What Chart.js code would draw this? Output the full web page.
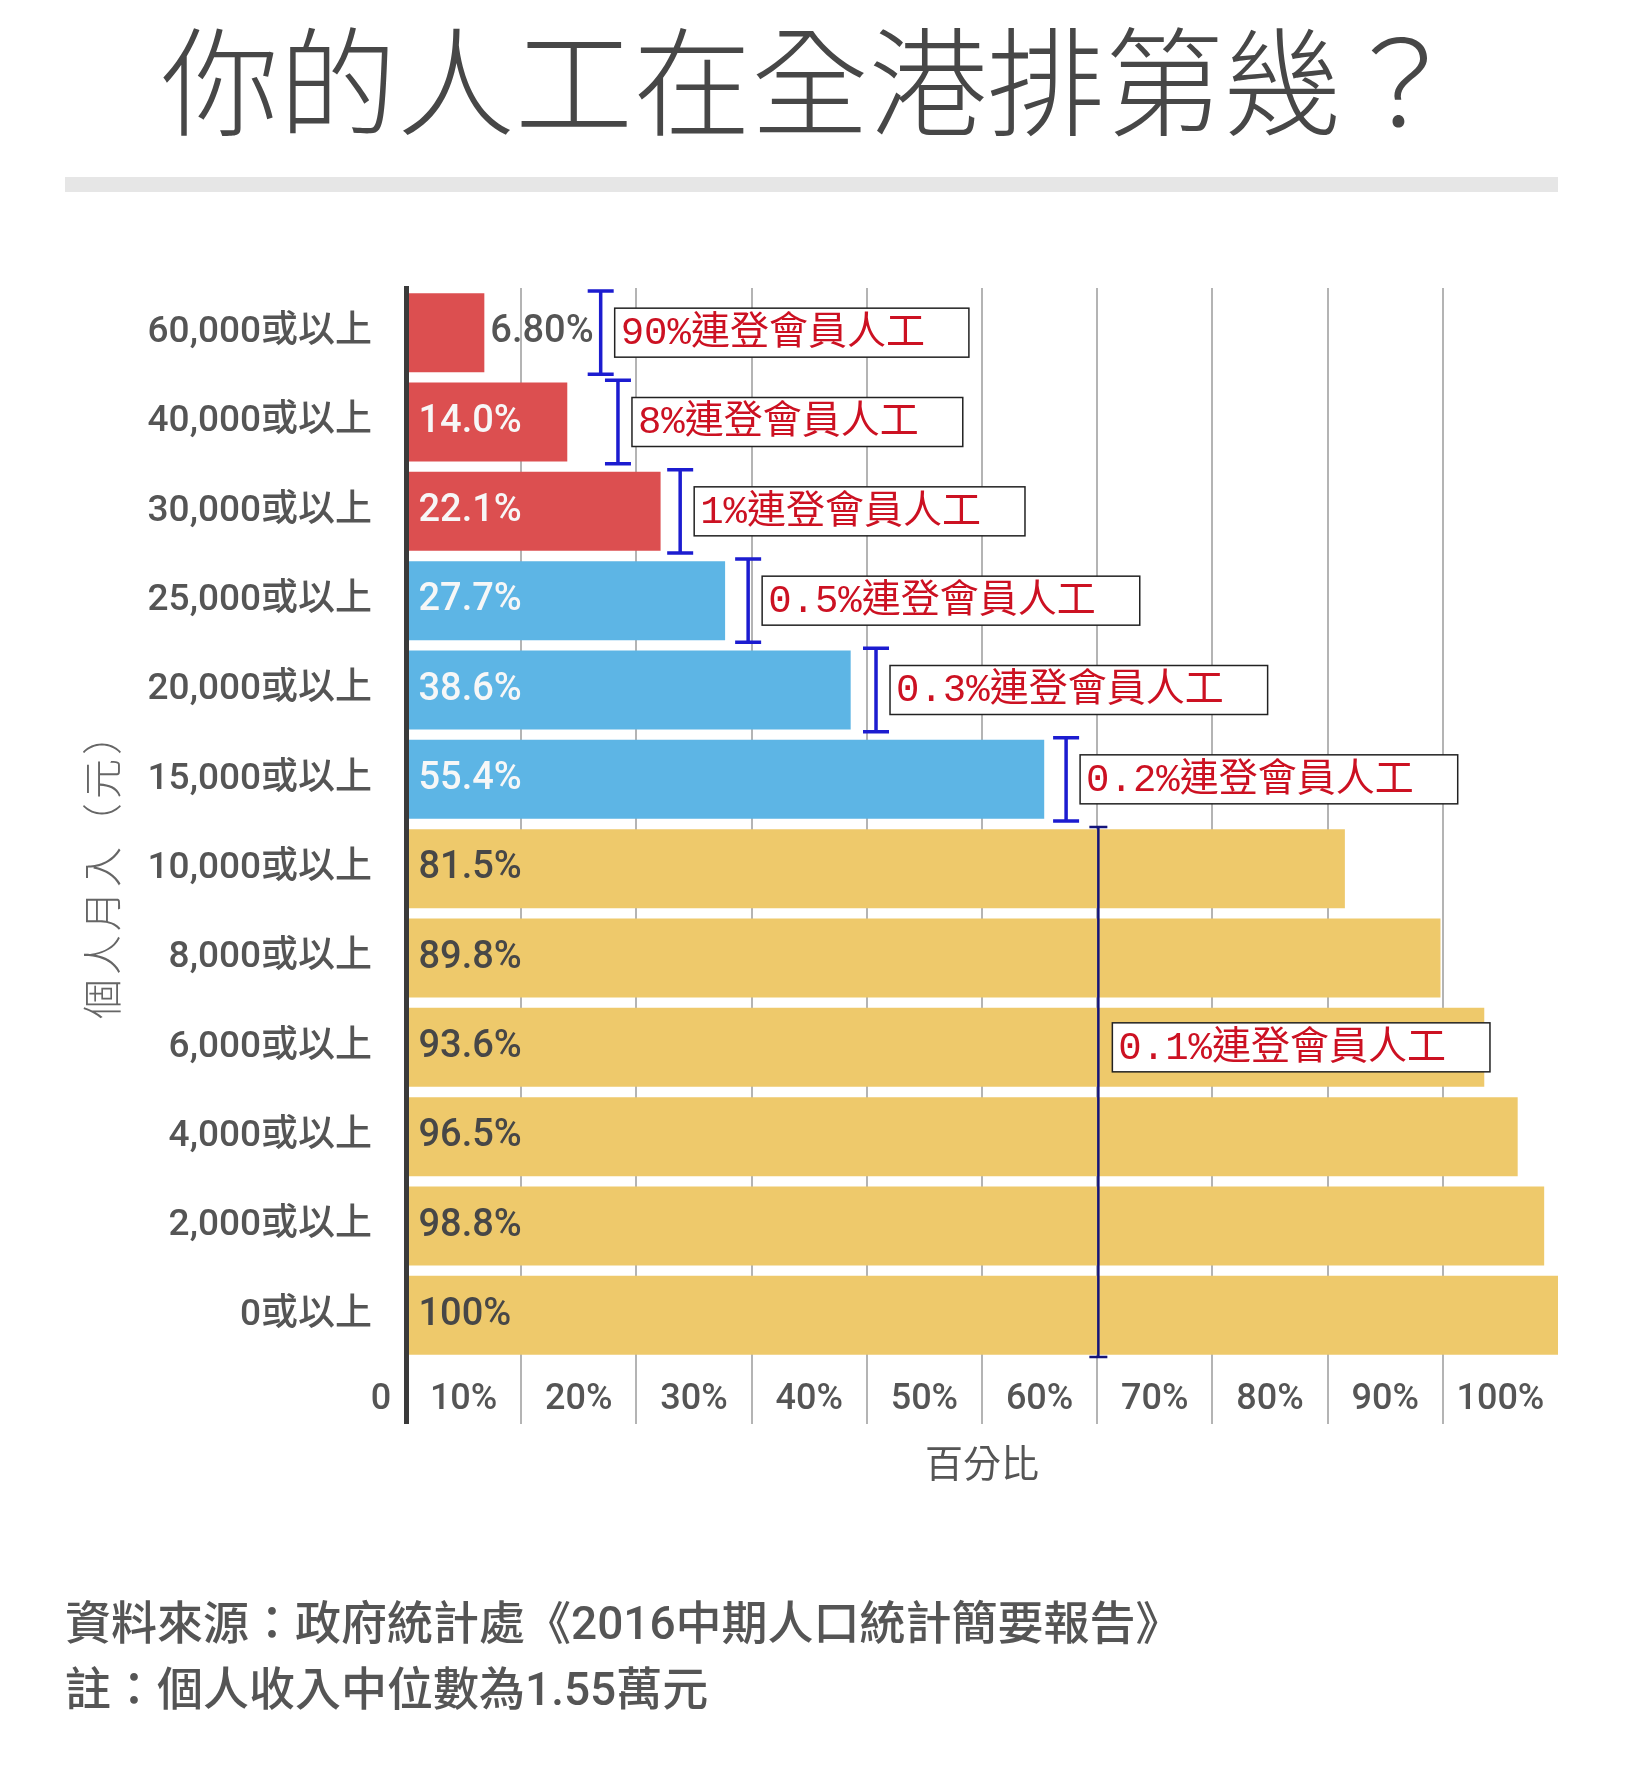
<!DOCTYPE html>
<html>
<head>
<meta charset="utf-8">
<script src="https://cdn.jsdelivr.net/npm/chart.js@4.4.1/dist/chart.umd.min.js"></script>
<style>
  html, body { margin: 0; padding: 0; background: #fff; }
  canvas { display: block; }
</style>
</head>
<body>
<canvas id="grafico" width="1639" height="1770"></canvas>
<script>
const titulo = "你的人工在全港排第幾？"
const tituloY = "個人月入（元）"
const tituloX = "百分比"
const fuente = ["資料來源：政府統計處《2016中期人口統計簡要報告》", "註：個人收入中位數為1.55萬元"]

const categorias = ["60,000或以上", "40,000或以上", "30,000或以上", "25,000或以上", "20,000或以上", "15,000或以上",
    "10,000或以上", "8,000或以上", "6,000或以上", "4,000或以上", "2,000或以上", "0或以上"]
const porcentajes = [6.8, 14.0, 22.1, 27.7, 38.6, 55.4, 81.5, 89.8, 93.6, 96.5, 98.8, 100]
const etiquetas = ["6.80%", "14.0%", "22.1%", "27.7%", "38.6%", "55.4%", "81.5%", "89.8%", "93.6%", "96.5%", "98.8%", "100%"]
const grupos = ["rojo", "rojo", "rojo", "azul", "azul", "azul", "amarillo", "amarillo", "amarillo", "amarillo", "amarillo", "amarillo"]
const etiquetasX = ["0", "10%", "20%", "30%", "40%", "50%", "60%", "70%", "80%", "90%", "100%"]

// notas en rojo con su corchete azul
const notas = ["90%連登會員人工", "8%連登會員人工", "1%連登會員人工", "0.5%連登會員人工", "0.3%連登會員人工", "0.2%連登會員人工", "0.1%連登會員人工"]
const notasX = [16.9, 18.4, 23.8, 29.7, 40.8, 57.3, 60.1]
const notasDesde = [0, 1, 2, 3, 4, 5, 6]
const notasHasta = [0, 1, 2, 3, 4, 5, 11]
const notasFila = [0, 1, 2, 3, 4, 5, 8]

const colores = { rojo: "#dc4f50", azul: "#5db5e5", amarillo: "#eec96b" }
const letra = "Roboto, 'Noto Sans CJK TC', sans-serif"

const decoracion = {
    id: "decoracion",
    afterDatasetsDraw(chart) {
        const ctx = chart.ctx
        const meta = chart.getDatasetMeta(0)
        ctx.save()
        ctx.font = "500 38px " + letra
        ctx.textBaseline = "middle"
        ctx.textAlign = "left"
        meta.data.forEach((barra, i) => {
            const ancho = barra.x - barra.base
            const w = ctx.measureText(etiquetas[i]).width
            if (w + 20 > ancho) {
                ctx.fillStyle = "#555"
                ctx.fillText(etiquetas[i], barra.x + 6, barra.y)
            } else {
                ctx.fillStyle = grupos[i] == "amarillo" ? "#474747" : "#f7f7f7"
                ctx.fillText(etiquetas[i], barra.base + 10, barra.y)
            }
        })
        ctx.restore()
    },
    afterDraw(chart) {
        const ctx = chart.ctx
        const xs = chart.scales.x
        const ys = chart.scales.y
        ctx.save()
        ctx.textBaseline = "middle"

        ctx.fillStyle = "#474747"
        ctx.font = "300 118px 'Noto Sans CJK TC'"
        ctx.textAlign = "left"
        ctx.fillText(titulo, 161, 82)
        ctx.fillStyle = "#e6e6e6"
        ctx.fillRect(65, 177, 1493, 15)

        ctx.fillStyle = "#555"
        ctx.font = "500 36px " + letra
        ctx.textAlign = "center"
        ctx.fillText(etiquetasX[0], xs.getPixelForValue(0) - 25, xs.top + 40)

        ctx.save()
        ctx.translate(102, 865)
        ctx.rotate(-Math.PI / 2)
        ctx.font = "300 40px 'Noto Sans CJK TC'"
        ctx.letterSpacing = "4px"
        ctx.fillStyle = "#666"
        ctx.fillText(tituloY, 0, 0)
        ctx.restore()

        const paso = ys.getPixelForValue(1) - ys.getPixelForValue(0)
        notas.forEach((t, i) => {
            const x = xs.getPixelForValue(notasX[i])
            const y1 = ys.getPixelForValue(notasDesde[i]) - paso / 2 + 3
            const y2 = ys.getPixelForValue(notasHasta[i]) + paso / 2 - 3
            const largo = notasHasta[i] > notasDesde[i]
            const tapa = largo ? 9 : 13
            ctx.strokeStyle = largo ? "#14147a" : "#1c1cd0"
            ctx.lineWidth = largo ? 2.5 : 3.5
            ctx.beginPath()
            ctx.moveTo(x, y1); ctx.lineTo(x, y2)
            ctx.moveTo(x - tapa, y1); ctx.lineTo(x + tapa, y1)
            ctx.moveTo(x - tapa, y2); ctx.lineTo(x + tapa, y2)
            ctx.stroke()

            const yc = ys.getPixelForValue(notasFila[i])
            ctx.font = "39px 'Liberation Mono', 'Noto Sans CJK TC'"
            const w = ctx.measureText(t).width + 50
            const x0 = x + 14
            ctx.fillStyle = "#fff"
            ctx.fillRect(x0, yc - 24.5, w, 49)
            ctx.strokeStyle = "#222"
            ctx.lineWidth = 1.5
            ctx.strokeRect(x0, yc - 24.5, w, 49)
            ctx.fillStyle = "#cc1122"
            ctx.textAlign = "left"
            ctx.fillText(t, x0 + 6, yc + 1)
        })

        ctx.textAlign = "left"
        ctx.font = "500 46px " + letra
        ctx.fillStyle = "#555"
        fuente.forEach((linea, i) => ctx.fillText(linea, 65, 1627 + i * 66))
        ctx.restore()
    }
}

let miGrafico = new Chart(document.getElementById("grafico"), {
    type: "bar",
    data: {
        labels: categorias,
        datasets: [{
            data: porcentajes,
            backgroundColor: grupos.map(g => colores[g]),
            borderWidth: 0,
            barPercentage: 0.884,
            categoryPercentage: 1
        }]
    },
    options: {
        indexAxis: "y",
        responsive: false,
        animation: false,
        layout: { padding: { left: 0, right: 81, top: 288, bottom: 285 } },
        plugins: {
            legend: { display: false },
            tooltip: { enabled: false }
        },
        scales: {
            x: {
                type: "linear",
                min: 0,
                max: 100,
                afterFit: s => { s.height = 125 },
                border: { display: false },
                grid: {
                    color: c => c.tick.value == 0 ? "#3a3a3a" : (c.tick.value == 100 ? "rgba(0,0,0,0)" : "#b4b4b4"),
                    lineWidth: c => c.tick.value == 0 ? 5 : 2,
                    tickLength: 64
                },
                ticks: {
                    stepSize: 10,
                    autoSkip: false,
                    maxRotation: 0,
                    labelOffset: -57.6,
                    padding: -45.6,
                    color: "#555",
                    font: { family: letra, size: 36, weight: 500 },
                    callback: (v, i) => v == 0 ? "" : etiquetasX[i]
                },
                title: {
                    display: true,
                    text: tituloX,
                    color: "#555",
                    padding: { top: 0, bottom: 0 },
                    font: { family: "'Noto Sans CJK TC'", size: 38, weight: 400 }
                }
            },
            y: {
                afterFit: s => { s.width = 406 },
                grid: { display: false, drawTicks: false },
                border: { display: true, color: "#3a3a3a", width: 5, z: 1 },
                ticks: {
                    padding: 34,
                    color: "#555",
                    font: { family: letra, size: 37, weight: 500 }
                }
            }
        }
    },
    plugins: [decoracion]
})
</script>
</body>
</html>
